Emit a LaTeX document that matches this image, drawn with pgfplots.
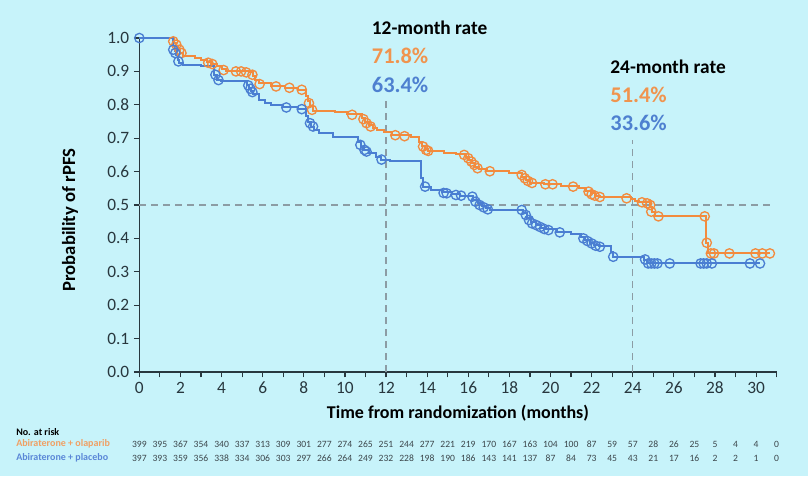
\documentclass[border=0pt]{standalone}
\usepackage{fontspec}
\setmainfont{Carlito}
\usepackage{pgfplots}
\pgfplotsset{compat=1.18}
\definecolor{bg}{RGB}{199,243,250}
\definecolor{ora}{RGB}{242,139,62}
\definecolor{blu}{RGB}{74,126,210}
\definecolor{orat}{RGB}{240,148,78}
\definecolor{blut}{RGB}{78,128,208}
\definecolor{axc}{RGB}{40,55,62}
\definecolor{dsh}{RGB}{140,156,164}
\definecolor{oral}{RGB}{240,160,100}
\definecolor{blul}{RGB}{90,135,215}
\definecolor{numc}{RGB}{60,70,75}

\begin{document}
\begin{tikzpicture}
\fill[bg] (-104.5pt,-78pt) rectangle (501.5pt,279pt);
\useasboundingbox (-104.5pt,-78pt) rectangle (501.5pt,279pt);
\begin{axis}[
 at={(0,0)}, anchor=south west, scale only axis,
 width=478pt, height=250.5pt,
 xmin=0, xmax=31, ymin=0, ymax=1,
 axis lines=left, axis line style={-, line width=1.1pt, draw=axc},
 clip=false,
 xtick={0,2,...,30}, minor xtick={1,3,...,31},
 ytick={0,0.1,0.2,0.3,0.4,0.5,0.6,0.7,0.8,0.9,1.0},
 tick align=outside, major tick length=4pt, minor tick length=4pt,
 tick style={line width=0.9pt, draw=axc},
 /pgf/number format/assume math mode=true,
 yticklabel style={/pgf/number format/.cd, fixed, fixed zerofill, precision=1},
 ticklabel style={font=\fontsize{13}{15}\selectfont, text=axc},
 xlabel={Time from randomization (months)},
 ylabel={Probability of rPFS},
 xlabel style={at={(axis description cs:0.5,-0.1228)}, anchor=center, font=\fontsize{13.5}{16}\selectfont\bfseries, text=black},
 ylabel style={at={(axis description cs:-0.1088,0.455)}, anchor=center, font=\fontsize{14}{16}\selectfont\bfseries, text=black},
]
\draw[dsh, line width=1.1pt, dash pattern=on 5pt off 4pt] (axis cs:0,0.5) -- (axis cs:30.9,0.5);
\draw[dsh, line width=1.1pt, dash pattern=on 5pt off 4pt] (axis cs:12,0) -- (axis cs:12,0.82);
\draw[dsh, line width=1.1pt, dash pattern=on 5pt off 4pt] (axis cs:24,0) -- (axis cs:24,0.695);

% Abiraterone + olaparib
\addplot[const plot, ora, line width=1.5pt] coordinates {
(0,1.0) (1.70,0.985) (1.80,0.975) (1.90,0.965) (2.00,0.955) (2.10,0.945) (2.70,0.94) (3.00,0.935) (3.30,0.928) (3.50,0.922) (3.80,0.915) (4.00,0.908) (4.20,0.902) (5.40,0.897) (5.55,0.885) (5.65,0.875) (5.80,0.865) (6.40,0.857) (7.10,0.851) (7.70,0.845) (8.10,0.825) (8.20,0.81) (8.30,0.795) (8.45,0.782) (9.50,0.777) (10.10,0.772) (10.85,0.76) (11.00,0.75) (11.15,0.74) (11.35,0.73) (11.55,0.724) (11.90,0.719) (12.30,0.71) (13.20,0.705) (13.60,0.69) (13.75,0.678) (13.90,0.668) (14.05,0.662) (14.80,0.657) (15.40,0.652) (15.90,0.645) (16.05,0.635) (16.20,0.625) (16.35,0.615) (16.50,0.607) (16.90,0.601) (18.00,0.597) (18.60,0.585) (18.80,0.575) (19.00,0.567) (19.70,0.562) (20.50,0.556) (21.40,0.551) (21.75,0.543) (21.95,0.535) (22.15,0.528) (22.40,0.524) (23.90,0.519) (24.10,0.512) (24.30,0.508) (24.85,0.495) (24.95,0.48) (25.10,0.466) (27.55,0.385) (27.65,0.355) (30.70,0.355)
};
\addplot[only marks, mark=o, mark size=3.5pt, mark options={draw=ora, line width=1pt}] coordinates {
(1.65,0.99) (1.8,0.98) (1.95,0.965) (2.05,0.955) (3.35,0.926) (3.55,0.922) (4.1,0.904) (4.7,0.90) (4.95,0.90) (5.2,0.897) (5.5,0.89) (5.85,0.862) (6.65,0.855) (7.3,0.851) (7.9,0.845) (8.25,0.805) (8.4,0.785) (10.35,0.77) (10.9,0.757) (11.05,0.745) (11.25,0.735) (12.45,0.709) (12.9,0.706) (13.8,0.675) (13.95,0.665) (14.05,0.662) (15.8,0.65) (16.0,0.64) (16.15,0.63) (16.3,0.62) (16.45,0.61) (17.05,0.601) (18.6,0.59) (18.75,0.58) (18.9,0.572) (19.1,0.566) (19.75,0.562) (20.1,0.562) (21.1,0.555) (21.85,0.54) (22.0,0.532) (22.15,0.528) (22.4,0.524) (23.7,0.52) (24.45,0.508) (24.7,0.505) (24.85,0.50) (24.9,0.48) (25.25,0.466) (27.5,0.466) (27.6,0.387) (27.8,0.355) (27.95,0.355) (28.7,0.355) (29.97,0.355) (30.3,0.355) (30.67,0.355)
};

% Abiraterone + placebo
\addplot[const plot, blu, line width=1.5pt] coordinates {
(0,1.0) (1.62,0.975) (1.72,0.962) (1.80,0.95) (1.88,0.935) (1.95,0.925) (2.10,0.92) (3.00,0.916) (3.65,0.89) (3.80,0.875) (3.95,0.87) (5.25,0.86) (5.35,0.85) (5.45,0.84) (5.55,0.832) (5.80,0.815) (6.10,0.805) (6.40,0.80) (7.00,0.793) (7.70,0.787) (8.10,0.765) (8.20,0.75) (8.35,0.735) (8.50,0.725) (8.75,0.715) (9.40,0.705) (10.65,0.69) (10.80,0.675) (10.95,0.665) (11.15,0.655) (11.50,0.645) (11.75,0.636) (12.20,0.631) (13.70,0.58) (13.80,0.555) (14.20,0.546) (14.70,0.538) (15.20,0.532) (15.60,0.528) (16.25,0.515) (16.45,0.505) (16.65,0.497) (16.85,0.49) (17.05,0.486) (18.65,0.475) (18.85,0.46) (19.05,0.448) (19.30,0.44) (19.55,0.432) (19.80,0.427) (20.30,0.418) (21.00,0.412) (21.50,0.405) (21.70,0.395) (21.90,0.387) (22.10,0.38) (22.35,0.376) (22.95,0.36) (23.05,0.343) (24.55,0.334) (24.70,0.325) (30.20,0.325)
};
\addplot[only marks, mark=o, mark size=3.5pt, mark options={draw=blu, line width=1pt}] coordinates {
(0,1.0) (1.65,0.965) (1.75,0.955) (1.9,0.93) (3.7,0.89) (3.85,0.874) (5.3,0.858) (5.4,0.848) (5.5,0.838) (7.15,0.792) (7.9,0.787) (8.3,0.745) (8.45,0.735) (10.75,0.68) (10.95,0.665) (11.05,0.66) (11.78,0.636) (13.9,0.555) (14.8,0.536) (14.95,0.535) (15.4,0.53) (15.65,0.528) (16.2,0.525) (16.35,0.51) (16.55,0.50) (16.75,0.493) (16.95,0.487) (18.6,0.485) (18.8,0.47) (18.95,0.455) (19.1,0.445) (19.3,0.44) (19.5,0.434) (19.7,0.428) (19.9,0.425) (20.45,0.418) (21.6,0.40) (21.8,0.392) (22.0,0.385) (22.2,0.378) (22.4,0.375) (23.05,0.345) (24.6,0.337) (24.75,0.325) (24.9,0.325) (25.05,0.325) (25.2,0.325) (25.8,0.325) (27.3,0.325) (27.45,0.325) (27.6,0.325) (27.85,0.325) (29.7,0.325) (30.19,0.325)
};

\node[anchor=west, inner sep=0pt, font=\fontsize{14.5}{17}\selectfont\bfseries, text=black] at (axis cs:11.3,1.032) {12-month rate};
\node[anchor=west, inner sep=0pt, font=\fontsize{16.8}{18}\selectfont\bfseries, text=orat] at (axis cs:11.3,0.946) {71.8\%};
\node[anchor=west, inner sep=0pt, font=\fontsize{16.8}{18}\selectfont\bfseries, text=blut] at (axis cs:11.3,0.859) {63.4\%};
\node[anchor=west, inner sep=0pt, font=\fontsize{14.5}{17}\selectfont\bfseries, text=black] at (axis cs:22.9,0.913) {24-month rate};
\node[anchor=west, inner sep=0pt, font=\fontsize{16.8}{18}\selectfont\bfseries, text=orat] at (axis cs:22.9,0.829) {51.4\%};
\node[anchor=west, inner sep=0pt, font=\fontsize{16.8}{18}\selectfont\bfseries, text=blut] at (axis cs:22.9,0.746) {33.6\%};
\end{axis}

% Number at risk
\node[anchor=west, inner sep=0pt, font=\fontsize{7.5}{9}\selectfont\bfseries, text=black] at (-92.5pt,-45.1pt) {No. at risk};
\node[anchor=west, inner sep=0pt, font=\fontsize{7.5}{9}\selectfont\bfseries, text=oral] at (-92.5pt,-54pt) {Abiraterone + olaparib};
\node[anchor=west, inner sep=0pt, font=\fontsize{7.5}{9}\selectfont\bfseries, text=blul] at (-92.5pt,-64.5pt) {Abiraterone + placebo};
\foreach \v [count=\i from 0] in {399,395,367,354,340,337,313,309,301,277,274,265,251,244,277,221,219,170,167,163,104,100,87,59,57,28,26,25,5,4,4,0}
  \node[inner sep=0pt, font=\fontsize{7.2}{8}\selectfont, text=numc] at (\i*15.4194pt,-54pt) {\v};
\foreach \v [count=\i from 0] in {397,393,359,356,338,334,306,303,297,266,264,249,232,228,198,190,186,143,141,137,87,84,73,45,43,21,17,16,2,2,1,0}
  \node[inner sep=0pt, font=\fontsize{7.2}{8}\selectfont, text=numc] at (\i*15.4194pt,-64.5pt) {\v};
\end{tikzpicture}
\end{document}
